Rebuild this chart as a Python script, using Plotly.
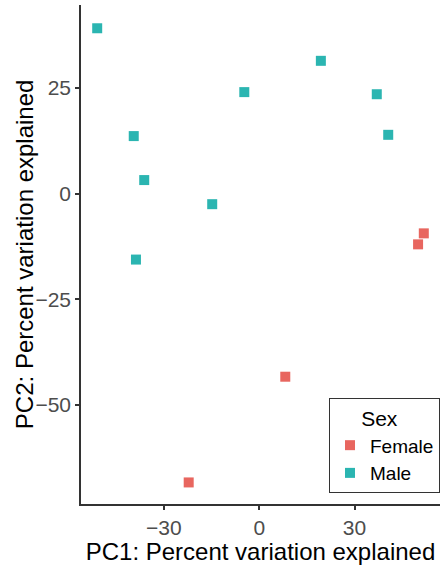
import plotly.graph_objects as go

female_pc1 = [51.8, 50.0, 8.2, -22.2]
female_pc2 = [-9.4, -12.0, -43.3, -68.3]
male_pc1 = [-51.0, -39.5, -36.2, -14.8, -38.8, -4.7, 19.4, 37.0, 40.6]
male_pc2 = [39.1, 13.6, 3.2, -2.5, -15.6, 24.0, 31.4, 23.5, 13.9]
x_ticks = [-30, 0, 30]
y_ticks = [-50, -25, 0, 25]

font = "Liberation Sans, Arial, Helvetica, sans-serif"

fig = go.Figure()
fig.add_trace(go.Scatter(x=female_pc1, y=female_pc2, mode="markers", name="Female",
                         marker=dict(symbol="square", size=10, color="#E8665F")))
fig.add_trace(go.Scatter(x=male_pc1, y=male_pc2, mode="markers", name="Male",
                         marker=dict(symbol="square", size=10, color="#2BB5B1")))

axis_common = dict(showgrid=False, zeroline=False, showline=True, linecolor="#333333",
                   linewidth=1.5, ticks="outside", ticklen=4, tickwidth=1.5,
                   tickcolor="#333333", automargin=False,
                   tickfont=dict(family=font, size=21, color="#4D4D4D"))

fig.update_layout(
    width=444, height=565,
    margin=dict(l=81, r=4, t=5, b=61),
    plot_bgcolor="white", paper_bgcolor="white",
    xaxis=dict(range=[-56.1, 56.9], tickvals=x_ticks,
               title=dict(text="PC1: Percent variation explained", standoff=0,
                          font=dict(family=font, size=24, color="black")),
               **axis_common),
    yaxis=dict(range=[-73.4, 44.6], tickvals=y_ticks, **axis_common),
    legend=dict(x=1, y=0.022, xanchor="right", yanchor="bottom",
                bordercolor="#333333", borderwidth=1, bgcolor="white",
                title=dict(text="     Sex",
                           font=dict(family=font, size=21, color="black")),
                font=dict(family=font, size=19, color="black"),
                itemwidth=30, tracegroupgap=0),
    showlegend=True,
    annotations=[dict(text="PC2: Percent variation explained", textangle=-90,
                      xref="paper", yref="paper", x=-0.157, y=0.5,
                      xanchor="center", yanchor="middle", showarrow=False,
                      font=dict(family=font, size=24, color="black"))],
)

fig.write_html("out.html", config={"displayModeBar": False},
               post_script="document.body.style.margin='0';document.body.style.padding='0';")
